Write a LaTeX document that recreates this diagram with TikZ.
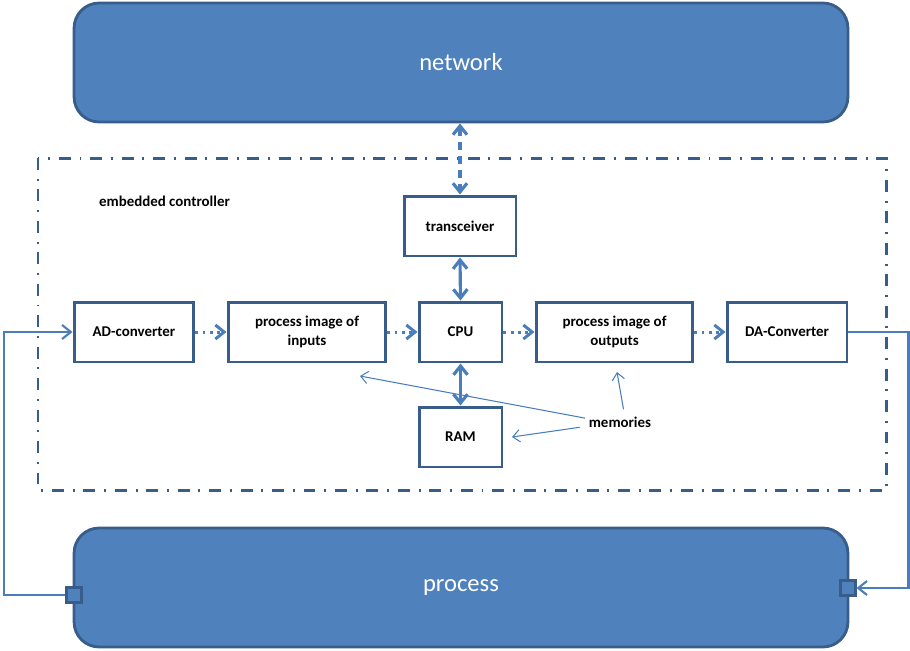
\documentclass[tikz,border=0pt]{standalone}
\usepackage{fontspec}
\setmainfont{Carlito}
\usetikzlibrary{arrows.meta}
\definecolor{boxblue}{HTML}{4F81BD}
\definecolor{edgeblue}{HTML}{385D8A}
\definecolor{linkblue}{HTML}{4A7EBB}

\begin{document}
\begin{tikzpicture}
    [
        x=0.02cm, y=-0.02cm,
        big node/.style={draw=edgeblue, fill=boxblue, line width=1.6pt, rounded corners=0.5cm, minimum width=15.48cm, minimum height=2.38cm, text=white, font=\fontsize{14}{16}\selectfont},
        unit node/.style={draw=edgeblue, fill=white, line width=1.7pt, minimum height=1.2cm, align=center, font=\bfseries\fontsize{8.5}{11}\selectfont},
        port node/.style={draw=edgeblue, fill=boxblue, line width=1.2pt, minimum size=0.3cm, inner sep=0pt},
        label node/.style={font=\bfseries\fontsize{8.5}{11}\selectfont, inner sep=1pt},
        bus/.style={draw=linkblue, line width=1.8pt, {Straight Barb[length=5pt,width=8pt]}-{Straight Barb[length=5pt,width=8pt]}},
        flow/.style={draw=linkblue, line width=1.7pt, dash pattern=on 1.7pt off 2.3pt, -{Straight Barb[length=5pt,width=8pt]}},
        wire/.style={draw=linkblue, line width=1.2pt, -{Straight Barb[length=5pt,width=8pt]}},
        pointer/.style={draw=linkblue, line width=0.6pt, -{Straight Barb[length=4pt,width=7pt]}}
    ]

    \useasboundingbox (0,0) rectangle (910,650);

    % outer blocks
    \node [big node] (network) at (461,62.5) {network};
    \node [big node] (process) at (461,587.5) {process};

    % controller frame
    \draw [edgeblue, line width=1.7pt, dash pattern=on 6.8pt off 5pt on 1.1pt off 5pt] (38,158) rectangle (886,490);
    \node [label node, anchor=west] (title) at (97,201) {embedded controller};

    % units
    \node [unit node, minimum width=2.24cm] (transceiver) at (460,226) {transceiver};
    \node [unit node, minimum width=2.4cm] (adc) at (134,332) {AD-converter};
    \node [unit node, minimum width=3.16cm] (inimage) at (307,332) {process image of\\inputs};
    \node [unit node, minimum width=1.66cm] (cpu) at (460.5,332) {CPU};
    \node [unit node, minimum width=3.14cm] (outimage) at (614.5,332) {process image of\\outputs};
    \node [unit node, minimum width=2.4cm] (dac) at (787,332) {DA-Converter};
    \node [unit node, minimum width=1.66cm] (ram) at (460.5,437) {RAM};

    % ports
    \node [port node] (inport) at (74,595) {};
    \node [port node] (outport) at (848,588) {};

    % bus links
    \draw [bus, dash pattern=on 5pt off 3pt] (network.south -| transceiver) -- (transceiver.north);
    \draw [bus] (transceiver.south) -- (cpu.north);
    \draw [bus] (cpu.south) -- (ram.north);

    % data flow
    \draw [flow] (adc) -- (inimage);
    \draw [flow] (inimage) -- (cpu);
    \draw [flow] (cpu) -- (outimage);
    \draw [flow] (outimage) -- (dac);

    % process loop
    \draw [wire] (inport.west) -- ++(-61.5,0) |- (adc.west);
    \draw [wire] (dac.east) -- ++(60,0) |- (outport.east);

    % memories
    \node [label node] (memories) at (620,422) {memories};
    \coordinate (ramtip) at (512,437);
    \coordinate (intip) at (360,376);
    \coordinate (outtip) at (617,372);
    \draw [pointer] ([xshift=-1pt,yshift=-2pt]memories.north west) -- (intip);
    \draw [pointer] ([xshift=2pt,yshift=3pt]memories.north) -- (outtip);
    \draw [pointer] ([xshift=-4pt,yshift=-3pt]memories.west) -- (ramtip);
\end{tikzpicture}
\end{document}
